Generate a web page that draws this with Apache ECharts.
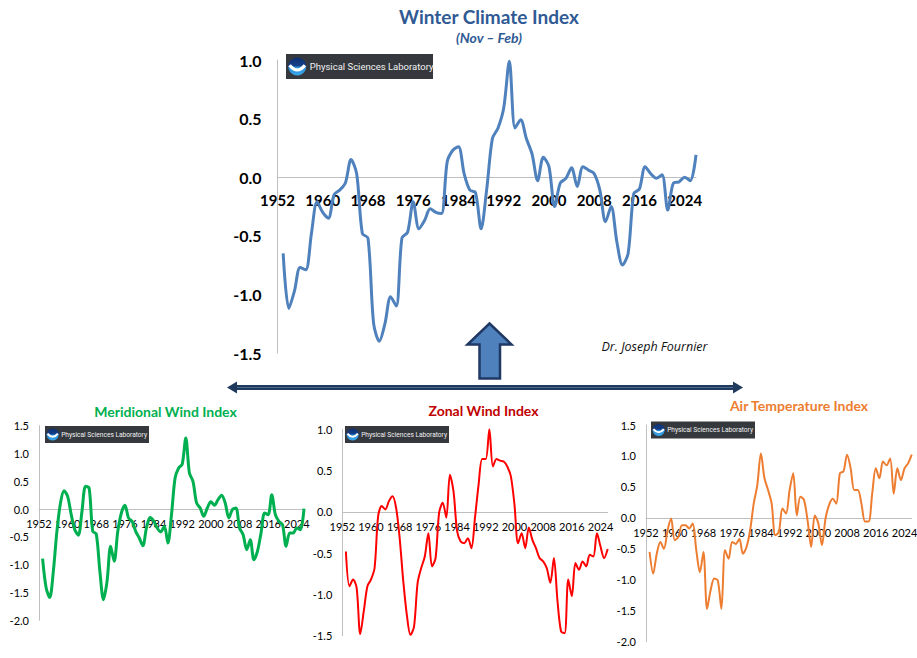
<!DOCTYPE html>
<html>
<head>
<meta charset="utf-8">
<script src="https://cdn.jsdelivr.net/npm/echarts@6/dist/echarts.min.js"></script>
<style>
  html, body { margin: 0; padding: 0; background: #fff; }
  #chart { width: 917px; height: 658px; }
</style>
</head>
<body>
<div id="chart"></div>
<script>
// winters 1953..2026
const years = [1953, 1954, 1955, 1956, 1957, 1958, 1959, 1960, 1961, 1962,
    1963, 1964, 1965, 1966, 1967, 1968, 1969, 1970, 1971, 1972,
    1973, 1974, 1975, 1976, 1977, 1978, 1979, 1980, 1981, 1982,
    1983, 1984, 1985, 1986, 1987, 1988, 1989, 1990, 1991, 1992,
    1993, 1994, 1995, 1996, 1997, 1998, 1999, 2000, 2001, 2002,
    2003, 2004, 2005, 2006, 2007, 2008, 2009, 2010, 2011, 2012,
    2013, 2014, 2015, 2016, 2017, 2018, 2019, 2020, 2021, 2022,
    2023, 2024, 2025, 2026];

const winterIndex = [-0.65, -1.12, -0.97, -0.77, -0.79, -0.48, -0.21, -0.30, -0.35, -0.15,
    -0.11, -0.05, 0.15, 0.03, -0.48, -0.52, -1.25, -1.40, -1.25, -1.02,
    -1.10, -0.52, -0.47, -0.21, -0.44, -0.37, -0.27, -0.30, -0.31, 0.13,
    0.23, 0.26, 0.03, -0.11, -0.13, -0.44, -0.10, 0.33, 0.42, 0.59,
    0.99, 0.42, 0.49, 0.33, 0.20, -0.03, 0.17, 0.09, -0.25, -0.05,
    -0.01, 0.08, -0.08, 0.09, 0.06, 0.03, -0.11, -0.38, -0.25, -0.55,
    -0.75, -0.65, -0.14, -0.10, 0.09, 0.03, -0.01, 0.02, -0.28, -0.05,
    -0.04, 0.00, -0.03, 0.19];

const meridional = [-0.89, -1.42, -1.59, -1.12, -0.40, 0.11, 0.33, 0.23, -0.10, -0.37,
    -0.47, -0.04, 0.41, 0.38, -0.40, -0.45, -1.12, -1.63, -1.30, -0.67,
    -0.94, -0.40, -0.07, 0.07, -0.16, -0.22, -0.40, -0.52, -0.66, -0.34,
    -0.15, -0.21, -0.34, -0.41, -0.31, -0.61, -0.10, 0.56, 0.74, 0.81,
    1.28, 0.65, 0.50, 0.11, 0.02, -0.13, 0.02, 0.13, 0.07, 0.17,
    0.25, 0.11, -0.16, -0.01, 0.02, -0.34, -0.46, -0.73, -0.55, -0.91,
    -0.76, -0.43, -0.07, -0.10, 0.26, -0.10, -0.22, -0.28, -0.67, -0.43,
    -0.43, -0.34, -0.37, 0.01];

const zonal = [-0.48, -0.90, -0.82, -0.92, -1.48, -1.20, -0.90, -0.82, -0.68, -0.05,
    0.07, 0.03, 0.13, 0.19, 0.05, -0.32, -0.84, -1.25, -1.49, -1.39,
    -0.86, -0.68, -0.54, -0.26, -0.66, -0.56, -0.01, 0.11, -0.07, 0.45,
    0.25, -0.23, -0.36, -0.38, -0.32, -0.44, -0.07, 0.33, 0.64, 0.64,
    1.00, 0.55, 0.64, 0.62, 0.61, 0.55, 0.43, 0.09, -0.38, -0.26,
    -0.44, -0.19, -0.34, -0.44, -0.56, -0.60, -0.68, -0.86, -0.56, -1.08,
    -1.45, -1.47, -0.82, -1.02, -0.62, -0.70, -0.60, -0.66, -0.52, -0.54,
    -0.26, -0.42, -0.56, -0.45];

const airTemp = [-0.55, -0.90, -0.58, -0.39, -0.50, -0.20, -0.01, -0.36, -0.31, -0.12,
    -0.12, -0.17, -0.09, -0.52, -0.88, -0.55, -1.47, -1.17, -0.98, -1.01,
    -1.47, -0.52, -0.66, -0.39, -0.42, -0.34, -0.58, -0.47, -0.20, 0.23,
    0.53, 1.04, 0.64, 0.45, 0.23, -0.28, -0.23, 0.15, 0.07, 0.45,
    0.72, 0.04, 0.34, 0.29, -0.04, -0.47, 0.04, -0.09, -0.44, -0.01,
    0.21, 0.31, 0.23, 0.72, 0.75, 1.02, 0.80, 0.45, 0.45, 0.23,
    -0.06, -0.06, 0.39, 0.80, 0.64, 0.91, 0.85, 0.96, 0.39, 0.80,
    0.61, 0.80, 0.88, 1.02];

const panelTitles = ['Winter Climate Index', 'Meridional Wind Index', 'Zonal Wind Index', 'Air Temperature Index'];
const yMins = [-1.5, -2.0, -1.5, -2.0];
const yMaxs = [1.0, 1.5, 1.0, 1.5];

const FONT = 'Lato, "Open Sans", sans-serif';

function pairs(vals) {
    return years.map((y, i) => [y, vals[i]]);
}

// panel geometry: [left, top, width, height]
const grids = [
    [277.5, 60, 418.5, 293],
    [39, 425.7, 265, 194.6],
    [342.3, 429.3, 265.4, 206.4],
    [646, 425, 265.7, 216.7]
];

function xAxisFor(i, big) {
    // x axis sits on the zero line, pushed up from the grid bottom
    let off = -grids[i][3] * (-yMins[i]) / (yMaxs[i] - yMins[i]);
    return {
        gridIndex: i, type: 'value', min: 1952, max: 2026, interval: 8,
        position: 'bottom', offset: off,
        axisLine: {onZero: false, lineStyle: {color: '#bfbfbf', width: 1}},
        axisTick: {show: false},
        splitLine: {show: false},
        axisLabel: {
            showMaxLabel: false,
            formatter: v => (v % 8 === 0 && v <= 2024) ? String(v) : '',
            color: '#000',
            fontFamily: FONT,
            fontSize: big ? 15 : 11,
            fontWeight: big ? 'bold' : 'normal',
            margin: big ? 15 : 9
        }
    };
}

function yAxisFor(i, big) {
    return {
        gridIndex: i, type: 'value', min: yMins[i], max: yMaxs[i], interval: 0.5,
        axisLine: {show: true, onZero: false, lineStyle: {color: '#bfbfbf', width: 1}},
        axisTick: {show: false},
        splitLine: {show: false},
        axisLabel: {
            formatter: v => v.toFixed(1),
            color: '#000',
            fontFamily: FONT,
            fontSize: big ? 16 : 11,
            fontWeight: big ? 'bold' : 'normal',
            margin: big ? 16 : 10
        }
    };
}

function lineSeries(i, vals, color, width) {
    return {
        type: 'line', xAxisIndex: i, yAxisIndex: i,
        data: pairs(vals),
        smooth: 0.3, showSymbol: false, silent: true,
        lineStyle: {color: color, width: width}
    };
}

// NOAA / PSL badge
function logo(x, y, w, h, fs) {
    let r = h * 0.36, cx = x + h * 0.45, cy = y + h / 2;
    return [
        {type: 'rect', shape: {x: x, y: y, width: w, height: h}, style: {fill: '#35383d'}},
        {type: 'circle', shape: {cx: cx, cy: cy, r: r},
            style: {fill: new echarts.graphic.LinearGradient(0, 0, 0, 1, [
                {offset: 0, color: '#0d2f6e'}, {offset: 0.45, color: '#143f8a'},
                {offset: 0.55, color: '#2a8fd8'}, {offset: 1, color: '#3aa6ea'}])}},
        {type: 'bezierCurve', shape: {x1: cx - r * 0.85, y1: cy - r * 0.15, x2: cx + r * 0.85, y2: cy - r * 0.15,
            cpx1: cx, cpy1: cy + r * 0.9}, style: {stroke: '#fff', lineWidth: r * 0.35, fill: null}},
        {type: 'text', x: x + h * 0.95, y: cy,
            style: {text: 'Physical Sciences Laboratory', fill: '#f2f2f2', verticalAlign: 'middle',
                font: fs + 'px Roboto, sans-serif'}}
    ];
}

function label(x, y, txt, color, font) {
    return {type: 'text', x: x, y: y, z: 10,
        style: {text: txt, fill: color, align: 'center', verticalAlign: 'middle', font: font}};
}

let graphics = [];
graphics.push(label(489, 16, panelTitles[0], '#2f5a94', 'bold 19px ' + FONT));
graphics.push(label(489, 37, '(Nov \u2013 Feb)', '#2f5a94', 'italic bold 14px ' + FONT));
graphics.push(label(165.5, 411.5, panelTitles[1], '#00b050', 'bold 14px ' + FONT));
graphics.push(label(483.5, 410, panelTitles[2], '#c00000', 'bold 14px ' + FONT));
graphics.push(label(799, 405.5, panelTitles[3], '#ed7d31', 'bold 14px ' + FONT));
graphics.push(label(654.5, 346, 'Dr. Joseph Fournier', '#111', 'italic 12.5px "Open Sans", sans-serif'));

graphics = graphics.concat(logo(286, 54, 147, 25, 9.5));
graphics = graphics.concat(logo(45, 426, 104, 17, 6.6));
graphics = graphics.concat(logo(345, 426, 104, 17, 6.6));
graphics = graphics.concat(logo(651, 421.5, 104, 17, 6.6));

// double headed connector
graphics.push({type: 'line', shape: {x1: 235, y1: 387.5, x2: 735, y2: 387.5}, style: {stroke: '#1f3a5c', lineWidth: 5}});
graphics.push({type: 'line', shape: {x1: 235, y1: 387.5, x2: 735, y2: 387.5}, style: {stroke: '#4d6a8e', lineWidth: 1.2}});
graphics.push({type: 'polygon', shape: {points: [[227, 387.5], [237, 381.5], [237, 393.5]]}, style: {fill: '#1f3a5c'}});
graphics.push({type: 'polygon', shape: {points: [[743, 387.5], [733, 381.5], [733, 393.5]]}, style: {fill: '#1f3a5c'}});

// block arrow pointing up
graphics.push({type: 'polygon', shape: {points: [[489.5, 323.5], [511.5, 344.5], [500, 344.5], [500, 378.5],
    [479.5, 378.5], [479.5, 344.5], [467.5, 344.5]]},
    style: {fill: '#4f81bd', stroke: '#1f3864', lineWidth: 2.5, lineJoin: 'miter'}});

const chart = echarts.init(document.getElementById('chart'), null, {renderer: 'svg'});
chart.setOption({
    backgroundColor: '#fff',
    animation: false,
    grid: grids.map(g => ({left: g[0], top: g[1], width: g[2], height: g[3], containLabel: false, outerBoundsMode: 'none'})),
    xAxis: [xAxisFor(0, true), xAxisFor(1, false), xAxisFor(2, false), xAxisFor(3, false)],
    yAxis: [yAxisFor(0, true), yAxisFor(1, false), yAxisFor(2, false), yAxisFor(3, false)],
    series: [
        lineSeries(0, winterIndex, '#4f81bd', 3),
        lineSeries(1, meridional, '#00b050', 3),
        lineSeries(2, zonal, '#ff0000', 2),
        lineSeries(3, airTemp, '#ed7d31', 2)
    ],
    graphic: graphics
});
</script>
</body>
</html>
